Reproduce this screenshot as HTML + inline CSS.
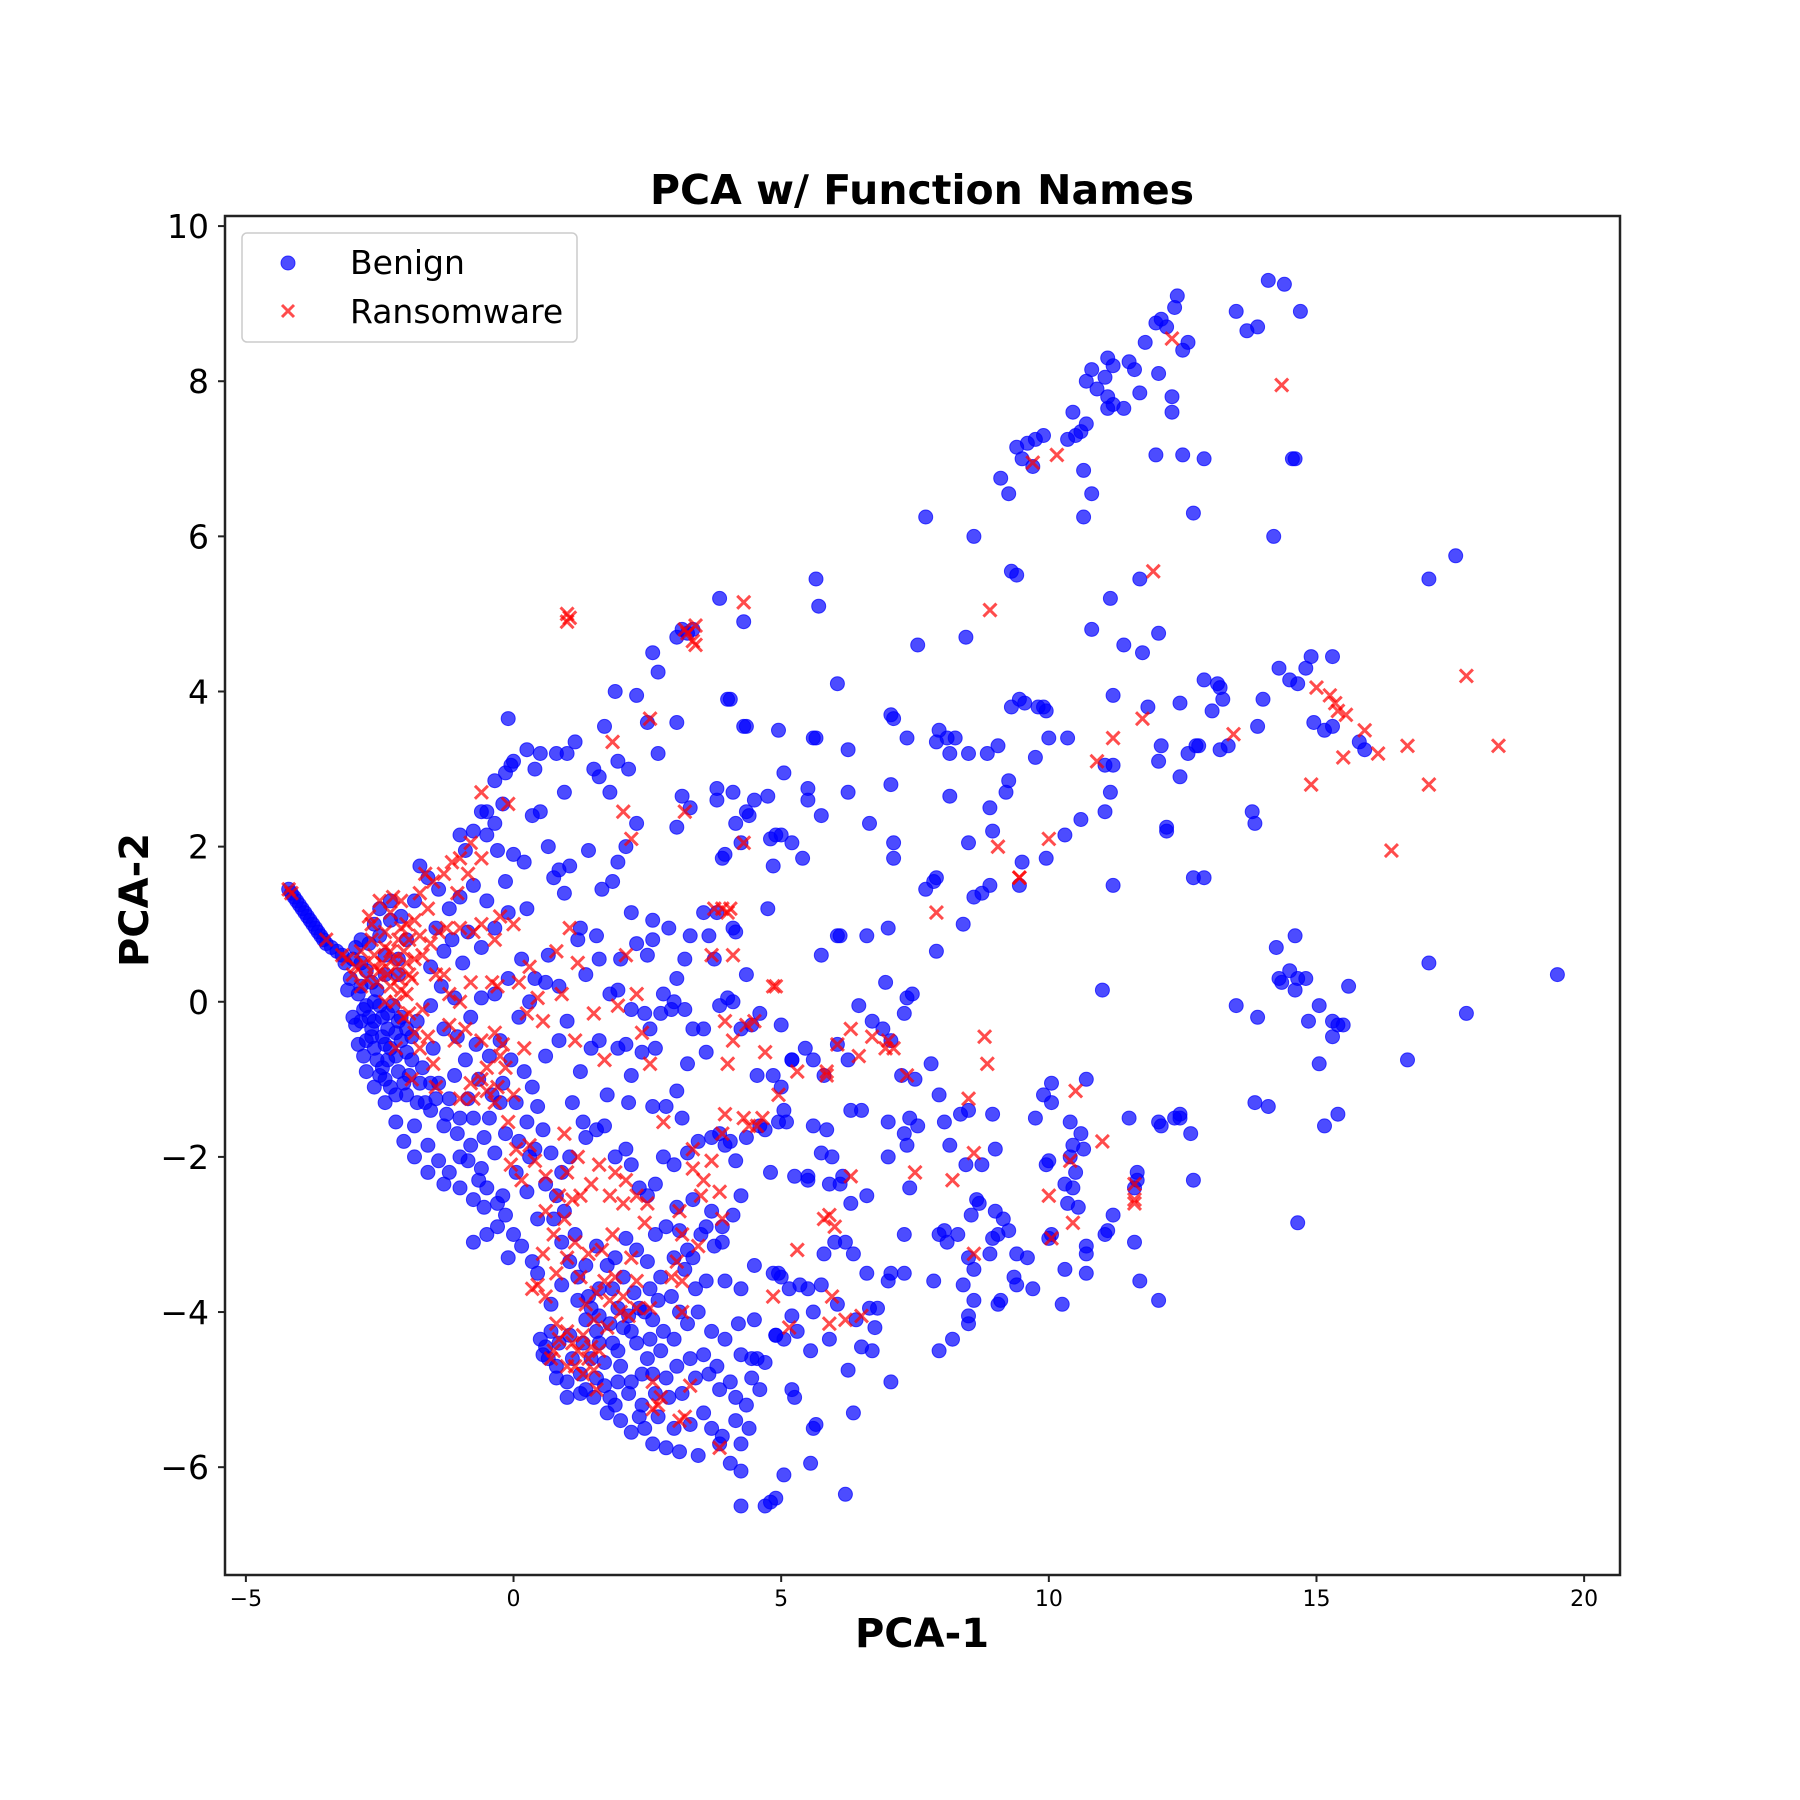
<!DOCTYPE html>
<html><head><meta charset="utf-8"><title>PCA w/ Function Names</title>
<style>html,body{margin:0;padding:0;background:#fff}svg{display:block}text{font-family:"DejaVu Sans","Liberation Sans",sans-serif}</style>
</head><body>
<svg id="chart" width="1800" height="1800" viewBox="0 0 1800 1800" xmlns="http://www.w3.org/2000/svg">
<rect x="0" y="0" width="1800" height="1800" fill="#fff"/>
<text x="922" y="204" text-anchor="middle" font-size="41" font-weight="bold">PCA w/ Function Names</text>
<text x="922" y="1647" text-anchor="middle" font-size="40" font-weight="bold">PCA-1</text>
<text x="0" y="0" transform="translate(148,900) rotate(-90)" text-anchor="middle" font-size="40" font-weight="bold">PCA-2</text>
<g id="marks"></g>
<g id="axes"></g>
</svg>
<script>
const xTicks=[-5,0,5,10,15,20];
const yTicks=[-6,-4,-2,0,2,4,6,8,10];
const yTickLabels=["\u22126","\u22124","\u22122","0","2","4","6","8","10"];
const benignX=[14.1,14.4,14.7,13.5,13.7,13.9,12.4,12.35,12.6,12.5,12.2,12.1,12.0,11.8,11.1,11.2,11.5,11.6,11.05,10.8,10.7,12.05,11.7,11.1,11.1,11.2,11.4,12.3,12.3,10.9,10.6,10.5,10.35,10.45,10.7,9.9,9.6,9.75,9.4,9.5,9.7,9.1,9.25,10.65,10.8,10.65,12.0,12.5,12.9,12.7,14.6,14.55,14.2,7.7,8.6,9.3,9.4,11.15,11.7,10.8,12.05,11.4,11.75,8.45,7.55,17.1,17.6,14.3,14.5,14.65,14.8,14.9,15.3,14.0,13.15,13.2,12.9,13.25,13.05,12.45,11.85,11.2,9.45,9.55,9.8,9.9,9.3,9.95,7.05,7.1,7.95,8.1,7.9,8.25,7.35,8.5,8.15,8.85,9.05,9.75,10.0,10.35,11.2,11.05,12.1,12.05,12.6,12.8,12.75,13.2,13.35,13.9,12.45,9.25,9.2,7.05,8.15,8.9,11.05,11.15,10.6,10.3,12.2,12.2,13.8,13.85,8.95,8.5,7.1,7.1,9.95,9.5,9.45,8.75,8.9,8.6,7.9,7.85,7.7,8.4,7.9,7.0,11.2,12.7,12.9,15.3,15.15,14.95,15.8,15.9,14.25,14.6,14.3,14.35,14.5,14.65,14.8,14.6,14.85,15.05,15.3,15.4,15.5,15.6,15.3,15.05,13.5,13.9,17.1,17.8,19.5,16.7,11.0,13.85,14.1,15.4,15.15,14.65,7.35,7.45,6.95,7.3,6.9,7.05,6.7,6.45,5.75,6.1,6.6,6.05,6.25,7.5,7.25,7.8,7.4,7.55,7.3,7.35,7.4,7.0,7.0,6.5,6.3,5.6,5.85,5.8,5.6,5.45,5.2,5.0,5.2,5.0,5.05,5.1,8.05,8.35,8.5,8.95,9.0,8.75,8.15,8.45,7.95,8.65,8.7,8.55,9.0,9.15,9.25,9.05,8.95,8.9,9.95,10.0,10.3,10.45,10.55,10.5,10.45,10.6,10.4,10.05,10.05,9.9,9.75,10.7,11.5,12.05,12.1,12.35,12.45,12.65,11.65,11.6,11.2,11.1,10.7,10.7,10.3,10.05,10.0,9.6,9.4,9.35,9.4,9.7,9.05,9.1,8.5,8.6,8.05,7.95,8.1,8.3,8.4,8.5,8.5,8.2,8.6,7.95,7.85,7.3,7.3,7.0,7.05,6.8,6.65,6.75,6.7,6.5,7.05,6.6,6.35,6.3,6.6,6.1,6.2,6.0,6.05,5.8,5.75,5.5,5.6,5.55,5.3,5.05,4.9,4.95,5.0,5.2,5.2,5.25,5.65,5.6,5.55,6.2,6.25,6.35,6.4,5.9,6.15,5.95,5.75,5.9,5.5,5.5,12.7,10.7,11.6,11.7,12.05,10.25,12.45,11.65,11.05,10.65,10.4,10.35,
-0.1,0,-0.05,0.25,0.5,0.8,1.0,1.15,1.5,1.7,2.3,2.5,1.9,2.6,2.7,3.05,3.15,3.35,3.25,3.85,4.3,4.0,4.05,4.35,4.3,3.05,2.7,2.15,1.95,1.6,1.8,2.3,2.1,1.95,1.85,1.65,1.4,0.95,1.05,0.85,0.75,0.5,0.35,0.2,0,0.4,0.95,0.65,0.25,-0.15,-0.3,-0.5,-0.6,-0.5,-0.2,-0.35,-0.75,-0.9,-1.0,-0.35,-0.15,3.15,3.3,3.05,3.8,3.8,4.1,4.5,4.75,4.25,4.35,4.4,4.15,3.9,3.95,4.8,4.9,5.0,4.85,5.2,5.4,4.95,5.05,5.5,5.5,5.6,5.65,5.65,5.7,5.75,6.05,6.25,6.25,6.65,6.05,4.75,4.35,4.15,3.65,3.8,3.55,3.3,3.2,3.05,2.9,2.8,2.6,2.5,2.3,2.2,2.6,2.0,1.95,1.55,1.6,1.35,1.25,1.2,1.8,2.2,2.45,2.55,2.75,2.95,3.0,3.2,3.35,3.55,3.6,3.85,4.0,4.1,4.25,4.45,4.6,3.75,4.1,3.25,3.05,3.15,2.85,2.6,2.65,2.4,2.1,1.95,2.2,2.15,1.75,1.6,1.45,1.25,1.1,1.3,1.35,1.55,1.7,1.9,2.1,2.2,2.35,2.5,2.65,2.8,3.0,3.25,3.45,3.7,3.85,3.95,4.15,4.25,4.1,3.9,3.75,3.6,3.35,3.05,2.85,2.65,2.5,2.3,2.1,1.9,1.75,1.55,1.35,1.15,0.95,0.8,0.9,1.05,0.7,0.55,0.45,0.35,0.2,0.6,0.85,1.0,0.85,0.6,0.4,0.15,0.65,3.6,3.4,3.2,3.0,2.75,2.55,2.35,2.15,2.05,2.3,2.5,2.75,3.0,3.25,3.45,3.7,3.95,4.2,4.5,4.55,4.7,4.45,4.6,4.35,4.15,4.25,4.05,4.25,4.25,4.7,4.8,4.9,5.05,4.4,3.85,3.7,3.45,3.1,2.85,2.6,2.45,2.2,2.0,1.75,3.3,3.55,3.85,3.65,3.4,3.15,2.9,2.65,2.4,2.15,1.95,1.7,1.5,1.25,1.0,0.8,0.6,0.5,0.55,0.85,1.05,1.35,1.55,1.85,1.7,2.0,1.6,1.4,1.2,0.9,0.7,0.45,0.35,0.15,0,-0.15,-0.3,-0.5,-0.65,-0.2,0.05,0.25,0.45,-0.1,0.3,0.1,-0.15,-0.35,-0.55,-0.75,-0.85,-0.65,-0.4,-0.2,-0.05,-0.25,-0.45,-0.7,-0.9,-1.1,-1.05,-0.8,-0.6,-0.35,-0.1,0.1,0.3,-0.95,-1.15,-0.85,-0.6,-0.35,-0.1,-0.5,-0.75,-1.0,-1.2,-1.4,-1.6,-1.75,-1.45,-1.3,-1.55,-1.35,-1.1,-1.55,-1.8,-1.3,-1.5,-1.7,-1.4,-1.2,-1.0,-1.3,-1.55,-1.8,-2.0,-1.85,-1.6,-1.4,-1.2,-1.0,-0.8,-1.0,-0.75,-0.55,-0.3,-0.75,-0.5,-1.3,-1.6,-1.85,-2.05,-2.2,-2.4,-2.6,-2.75,-2.9,-2.95,-2.8,-2.6,-2.9,-3.05,-2.85,-2.7,-2.5,-2.3,-2.5,-2.3,-2.1,-1.85,-2.0,-2.15,-2.4,-2.55,-2.35,-2.2,-2.45,-2.6,-2.35,-2.15,-2.0,-1.9,-2.1,-2.25,-2.65,-2.8,-2.5,-2.3,-2.05,-1.95,-2.45,-2.7,-2.55,-2.4,-2.2,-2.1,-2.35,-2.5,-1.9,-1.75,-2.65,-2.0,-2.3,-2.75,-2.45,-2.15,-2.6,-2.85,-2.4,-2.2,-1.65,-1.55,-1.45,-1.25,-1.05,-0.85,-0.6,-0.45,-0.25,0.05,0.25,0.4,0.6,0.75,0.9,1.05,1.2,1.45,1.6,1.8,1.95,1.3,1.1,1.45,1.25,1.55,1.8,1.35,1.6,0.7,0.65,0.8,1.0,2.6,2.8,3.1,2.95,2.7,2.45,2.25,2.05,1.85,1.95,2.2,2.55,2.6,2.85,3.05,3.3,3.55,3.8,4.05,2.4,2.2,1.9,2.35,2.7,3.0,4.15,3.9,-2.95,-2.75,-3.0,-3.15,-2.85,-2.6,-2.4,-2.15,-2.65,-2.85,-3.1,-3.0,-2.75,
-4.2,-4.15,-4.1,-4.05,-4.0,-3.95,-3.9,-3.85,-3.8,-3.75,-3.7,-3.65,-3.6,-3.55,-3.5,-3.4,-3.3,-3.2,
4.8,4.6,4.35,4.05,4.85,4.55,4.7,5.25,4.95,5.35,5.15,4.85,4.5,4.9,4.25,4.45,4.25,3.95,3.9,3.7,3.5,3.25,3.1,3.35];
const benignY=[9.3,9.25,8.9,8.9,8.65,8.7,9.1,8.95,8.5,8.4,8.7,8.8,8.75,8.5,8.3,8.2,8.25,8.15,8.05,8.15,8.0,8.1,7.85,7.8,7.65,7.7,7.65,7.8,7.6,7.9,7.35,7.3,7.25,7.6,7.45,7.3,7.2,7.25,7.15,7.0,6.9,6.75,6.55,6.85,6.55,6.25,7.05,7.05,7.0,6.3,7.0,7.0,6.0,6.25,6.0,5.55,5.5,5.2,5.45,4.8,4.75,4.6,4.5,4.7,4.6,5.45,5.75,4.3,4.15,4.1,4.3,4.45,4.45,3.9,4.1,4.05,4.15,3.9,3.75,3.85,3.8,3.95,3.9,3.85,3.8,3.8,3.8,3.75,3.7,3.65,3.5,3.4,3.35,3.4,3.4,3.2,3.2,3.2,3.3,3.15,3.4,3.4,3.05,3.05,3.3,3.1,3.2,3.3,3.3,3.25,3.3,3.55,2.9,2.85,2.7,2.8,2.65,2.5,2.45,2.7,2.35,2.15,2.25,2.2,2.45,2.3,2.2,2.05,2.05,1.85,1.85,1.8,1.5,1.4,1.5,1.35,1.6,1.55,1.45,1.0,0.65,0.95,1.5,1.6,1.6,3.55,3.5,3.6,3.35,3.25,0.7,0.85,0.3,0.25,0.4,0.3,0.3,0.15,-0.25,-0.05,-0.25,-0.3,-0.3,0.2,-0.45,-0.8,-0.05,-0.2,0.5,-0.15,0.35,-0.75,0.15,-1.3,-1.35,-1.45,-1.6,-2.85,0.05,0.1,0.25,-0.15,-0.35,-0.5,-0.25,-0.05,0.6,0.85,0.85,-0.55,-0.75,-1.0,-0.95,-0.8,-1.5,-1.6,-1.7,-1.85,-2.4,-2.0,-1.55,-1.4,-1.4,-1.6,-1.65,-0.95,-0.75,-0.6,-0.75,-0.3,-0.75,-1.1,-1.4,-1.55,-1.55,-1.45,-1.4,-1.45,-1.9,-2.1,-1.85,-2.1,-1.2,-2.55,-2.6,-2.75,-2.7,-2.8,-2.95,-3.0,-3.05,-3.25,-2.1,-2.05,-2.35,-2.4,-2.65,-2.2,-1.85,-1.7,-1.55,-1.05,-1.3,-1.2,-1.5,-1.0,-1.5,-1.55,-1.6,-1.5,-1.5,-1.7,-2.2,-2.4,-2.75,-2.95,-3.25,-3.5,-3.45,-3.0,-3.05,-3.3,-3.25,-3.55,-3.65,-3.7,-3.9,-3.85,-3.3,-3.45,-2.95,-3.0,-3.1,-3.0,-3.65,-4.05,-4.15,-4.35,-3.85,-4.5,-3.6,-3.0,-3.5,-3.6,-3.5,-3.95,-3.95,-4.2,-4.5,-4.45,-4.9,-3.5,-3.25,-2.6,-2.5,-2.35,-3.1,-3.1,-3.9,-3.25,-3.65,-3.7,-4.0,-4.5,-4.25,-4.35,-4.3,-3.5,-3.55,-4.05,-5.0,-5.1,-5.45,-5.5,-5.95,-6.35,-4.75,-5.3,-4.1,-4.35,-2.25,-2.0,-1.95,-2.35,-2.25,-2.3,-2.3,-3.15,-3.1,-3.6,-3.85,-3.9,-1.45,-2.3,-3.0,-1.9,-2.0,-2.6,
3.65,3.1,3.05,3.25,3.2,3.2,3.2,3.35,3.0,3.55,3.95,3.6,4.0,4.5,4.25,4.7,4.8,4.8,4.75,5.2,4.9,3.9,3.9,3.55,3.55,3.6,3.2,3.0,3.1,2.9,2.7,2.3,2.0,1.8,1.55,1.45,1.95,2.7,1.75,1.7,1.6,2.45,2.4,1.8,1.9,3.0,1.4,2.0,1.2,1.55,1.95,2.45,2.45,2.15,2.55,2.3,2.2,1.95,2.15,2.85,2.95,2.65,2.5,2.25,2.75,2.6,2.7,2.6,2.65,2.05,2.45,2.4,2.3,1.85,1.9,2.1,2.15,2.15,1.75,2.05,1.85,3.5,2.95,2.75,2.6,3.4,3.4,5.45,5.1,2.4,4.1,3.25,2.7,2.3,0.85,1.2,0.35,0.9,0.85,1.15,1.15,0.85,0.55,0.3,0.95,0.1,1.05,0.6,0.75,1.15,0.8,0.55,0.15,0.85,0.55,0.35,0.95,0.8,0.1,-0.1,-0.15,-0.35,-0.15,-0.1,0.0,-0.1,-0.35,-0.35,-0.65,-0.05,0.05,0.0,-0.35,-0.3,-0.15,0.55,0.95,-0.8,-1.15,-1.5,-1.35,-1.35,-0.6,-0.65,-0.55,-0.6,-0.95,-1.3,-1.2,-0.5,-0.6,-0.9,-1.3,-1.55,-1.75,-1.65,-1.6,-2.0,-1.9,-2.1,-2.4,-2.5,-2.35,-2.0,-2.1,-1.95,-1.8,-1.75,-1.7,-1.85,-2.05,-2.5,-2.75,-2.9,-3.15,-2.9,-2.55,-2.65,-2.9,-3.0,-3.35,-3.2,-3.05,-3.3,-3.4,-3.15,-3.4,-3.0,-2.7,-2.5,-2.2,-2.0,-1.95,-1.65,-1.35,-1.1,-0.9,-0.7,-0.5,-0.25,0.2,0.25,0.3,0.55,0.6,-3.6,-3.7,-3.45,-3.3,-3.55,-3.7,-3.95,-4.05,-4.2,-4.4,-4.6,-4.5,-4.35,-4.15,-4.0,-4.25,-4.35,-4.15,-4.1,-4.6,-4.65,-4.85,-5.0,-5.2,-5.4,-5.7,-5.95,-6.05,-6.5,-6.5,-6.45,-6.4,-6.1,-5.5,-5.7,-5.5,-5.85,-5.8,-5.75,-5.7,-5.5,-5.55,-5.4,-5.3,-5.45,-5.3,-5.0,-4.8,-4.85,-5.05,-5.1,-5.05,-5.2,-5.05,-4.9,-4.95,-5.1,-5.05,-4.9,-4.7,-4.45,-4.35,-4.55,-4.4,-4.3,-4.1,-4.25,-4.4,-4.65,-4.7,-3.7,-3.8,-3.55,-3.65,-3.9,-3.5,-3.35,-3.15,-3.0,-2.75,-2.6,-2.4,-2.3,-2.5,-2.2,-2.45,-2.8,-3.3,-2.0,-1.8,-1.7,-1.95,-1.75,-1.5,-1.25,-1.0,-1.2,-1.05,-0.75,-0.5,-0.7,-0.55,-0.75,-0.95,-0.45,-0.2,0.05,0.1,0.3,-0.2,0.0,0.5,0.8,0.9,0.7,0.95,1.15,1.3,1.5,1.35,1.2,1.45,1.6,1.75,0.95,0.65,0.45,0.2,0.05,-0.05,-0.25,-0.35,-0.6,-0.85,-1.05,-1.25,-1.5,-1.6,-1.4,-1.3,-1.2,-1.6,-1.85,-2.05,-2.2,-2.0,-1.85,-2.4,-2.55,-2.65,-2.9,-3.1,-3.0,-2.35,-2.2,-2.0,-1.8,-1.55,-1.3,-1.1,-0.9,-0.55,-0.3,-0.1,0.0,0.1,0.3,0.5,0.75,0.85,1.05,1.2,1.3,1.1,1.3,0.8,0.55,0.35,0.15,-0.15,-0.4,-0.45,-0.6,-0.75,-0.9,-0.65,-0.45,-0.2,-0.05,-0.35,-0.7,-0.95,-1.1,-1.05,-0.95,-0.2,-0.2,-0.75,-0.55,-0.7,-0.5,-0.35,-0.05,-0.75,-1.05,-0.45,-0.35,-0.6,-0.5,-0.85,-0.25,-0.25,-0.25,-1.0,-1.2,-1.3,-1.05,-1.25,-1.45,-1.7,-2.05,-2.15,-1.5,-1.3,-1.3,-1.55,-1.9,-2.35,-2.8,-3.1,-3.35,-3.85,-3.95,-4.05,-4.15,-4.5,-4.4,-4.6,-4.6,-4.8,-4.85,-5.1,-5.0,-4.4,-4.25,-4.6,-4.85,-5.1,-4.1,-4.25,-4.0,-3.8,-3.85,-4.0,-3.75,-3.55,-3.7,-3.95,-4.25,-4.35,-4.8,-4.85,-4.7,-4.6,-4.55,-4.7,-4.9,-4.8,-4.9,-5.2,-5.35,-5.35,-5.5,-5.1,-5.6,0.7,0.4,0.55,0.5,0.8,1.0,0.6,0.35,0.25,0.2,0.15,-0.2,-0.05,
1.45,1.4,1.35,1.3,1.25,1.2,1.15,1.1,1.05,1.0,0.95,0.9,0.85,0.8,0.75,0.7,0.65,0.6,
-2.2,-1.6,-1.75,-1.8,-0.95,-0.95,-1.65,-2.25,-1.55,-3.65,-3.7,-3.5,-3.4,-4.3,-4.55,-4.6,-3.7,-3.6,-3.1,-2.7,-3.0,-3.2,-2.95,-3.3];
const ransomX=[-4.2,-4.15,-3.5,12.3,14.35,9.7,10.15,11.95,8.9,4.3,1.0,1.05,1.0,3.25,3.35,3.4,3.4,3.2,2.55,1.85,2.05,2.2,3.2,4.3,15.0,15.25,15.35,15.4,15.55,15.9,15.5,16.15,16.7,18.4,17.8,17.1,14.9,13.45,11.75,11.2,10.9,10.0,9.05,9.45,9.45,16.4,7.9,3.75,3.9,4.05,4.0,3.7,4.1,4.85,4.9,0.0,0.8,1.05,1.2,0.9,0.3,0.45,0.25,-0.3,-0.2,0.2,0.55,1.15,1.5,1.7,2.1,2.3,2.4,2.55,1.95,3.95,4.1,4.35,4.5,4.7,4.95,5.3,5.85,5.85,6.3,6.05,6.7,6.45,6.95,7.0,7.1,7.35,8.5,8.8,8.85,10.5,11.0,10.0,10.4,10.45,10.05,11.6,11.6,11.6,8.6,8.2,8.6,7.5,6.3,6.5,6.2,5.9,5.95,5.8,5.9,6.0,5.3,4.85,5.15,4.4,4.55,4.3,4.65,3.9,3.7,3.55,3.85,3.5,3.35,3.35,3.9,3.95,4.0,3.1,3.45,3.15,3.05,2.95,3.15,3.15,3.3,3.1,3.2,2.75,2.6,2.6,2.7,3.85,2.5,2.8,2.1,1.9,1.8,2.05,2.3,2.45,2.2,2.3,2.55,2.3,2.15,2.0,1.8,1.7,1.55,1.35,1.5,1.3,1.2,1.1,1.0,0.85,0.75,0.7,1.4,1.5,1.3,1.15,1.6,1.75,1.9,2.05,1.25,1.0,0.8,0.75,0.95,1.1,0.85,0.6,0.45,0.6,0.35,0.55,0.6,0.4,0.3,0.15,-0.05,0.05,-0.1,-0.35,-0.3,-0.5,-0.6,-0.8,-0.5,-0.15,0.0,-0.25,-0.75,-1.0,-0.9,-1.2,-1.0,-0.8,-0.4,-0.35,-0.25,-0.6,-0.75,-1.0,-1.25,-1.05,-0.85,-0.6,-0.8,-1.0,-1.15,-1.3,-0.6,-0.1,-1.5,-1.65,-1.75,-1.6,-1.4,-1.55,-1.7,-1.45,-1.3,-1.2,-1.7,-1.6,-1.75,-1.5,-1.85,-1.95,-2.0,-1.9,-1.85,-1.95,-2.0,-2.1,-2.25,-2.5,-2.7,-2.4,-2.15,-2.3,-2.45,-2.2,-2.0,-1.95,-2.35,-2.6,-2.8,-2.95,-3.1,-3.2,-2.75,-2.55,-2.3,-2.1,-2.25,-2.05,-2.4,-2.6,-2.85,-2.65,-2.5,-2.15,-2.2,-2.4,-2.05,-2.3,-2.65,-1.85,-1.75,-2.1,-2.85,-3.0,-1.9,-2.2,-1.45,-1.1,-0.6,-0.35,0.1,1.0,1.2,0.95,1.25,1.45,1.6,1.15,1.4,1.65,1.85,1.45,1.55,1.0,0.8];
const ransomY=[1.45,1.4,0.8,8.55,7.95,6.95,7.05,5.55,5.05,5.15,5.0,4.95,4.9,4.75,4.65,4.6,4.85,4.8,3.65,3.35,2.45,2.1,2.45,2.05,4.05,3.95,3.85,3.75,3.7,3.5,3.15,3.2,3.3,3.3,4.2,2.8,2.8,3.45,3.65,3.4,3.1,2.1,2.0,1.6,1.6,1.95,1.15,1.2,1.2,1.2,1.15,0.6,0.6,0.2,0.2,1.0,0.65,0.95,0.5,0.1,0.45,0.05,-0.15,0.2,-0.55,-0.6,-0.25,-0.5,-0.15,-0.75,0.6,0.1,-0.4,-0.8,-0.05,-0.25,-0.5,-0.3,-0.25,-0.65,-1.2,-0.9,-0.9,-0.95,-0.35,-0.55,-0.45,-0.7,-0.6,-0.5,-0.6,-0.95,-1.25,-0.45,-0.8,-1.15,-1.8,-2.5,-2.05,-2.85,-3.05,-2.35,-2.55,-2.6,-1.95,-2.3,-3.25,-2.2,-2.25,-4.05,-4.1,-4.15,-3.8,-2.8,-2.75,-2.9,-3.2,-3.8,-4.2,-1.6,-1.6,-1.5,-1.5,-1.7,-2.05,-2.3,-2.45,-2.5,-2.15,-1.9,-2.8,-1.45,-0.8,-2.7,-3.15,-3.0,-3.35,-3.55,-3.6,-4.0,-4.95,-5.4,-5.35,-5.1,-4.9,-5.25,-5.2,-5.75,-2.6,-1.55,-2.3,-2.2,-2.5,-2.6,-2.5,-2.85,-3.3,-3.6,-3.95,-3.95,-4.05,-4.0,-3.85,-3.6,-3.75,-3.9,-4.1,-4.3,-4.5,-4.4,-4.25,-4.35,-4.5,-4.6,-4.6,-4.75,-4.8,-4.7,-4.5,-4.2,-3.55,-3.8,-3.55,-3.3,-3.5,-3.0,-2.8,-2.55,-2.5,-2.7,-3.65,-3.8,-3.7,-3.25,-2.25,-2.05,-1.85,-2.3,-2.1,-1.9,-1.55,-1.3,-1.1,-1.15,-1.0,-1.05,-0.85,-0.85,-1.2,-0.7,-1.25,-1.25,-0.35,-0.3,0.0,0.25,0.25,0.8,1.1,1.0,0.9,0.95,0.95,1.4,1.65,1.85,2.05,1.85,1.8,1.65,2.7,2.55,1.55,1.65,1.4,1.2,0.9,0.75,0.6,0.35,0.35,0.1,-0.1,-0.45,-0.6,-0.8,-0.4,-0.15,0.1,0.3,0.55,0.8,1.0,1.3,1.35,1.3,1.1,0.9,0.8,0.65,0.5,0.45,0.5,0.35,0.35,0.45,0.5,0.45,0.55,0.6,0.3,0.25,0.2,0.15,0.55,0.65,0.7,0.6,0.65,0.8,0.4,0.3,0.0,0.0,-0.2,1.15,1.0,1.05,0.85,0.95,0.2,0.35,-1.0,-0.6,-1.1,-0.5,-0.5,-0.4,0.25,-2.2,-2.0,-1.7,-2.5,-2.35,-2.1,-3.1,-3.25,-3.2,-3.0,-4.45,-5.0,-4.7,-4.15];

const NS="http://www.w3.org/2000/svg";
const L=225,R=1620,T=216,B=1575;
const xMin=-5.39,xMax=20.67,yMin=-7.39,yMax=10.13;
function xs(v){return L+(v-xMin)/(xMax-xMin)*(R-L);}
function ys(v){return B-(v-yMin)/(yMax-yMin)*(B-T);}
function mk(tag,attrs){const e=document.createElementNS(NS,tag);for(const k in attrs)e.setAttribute(k,attrs[k]);return e;}
const marks=document.getElementById('marks');
const axes=document.getElementById('axes');
const gb=mk('g',{});


marks.appendChild(gb);
for(let i=0;i<benignX.length;i++){
  const c=mk('circle',{cx:xs(benignX[i]).toFixed(1),cy:ys(benignY[i]).toFixed(1),r:7,fill:'#0000ff','fill-opacity':0.7,stroke:'#0000ff','stroke-opacity':0.7,'stroke-width':1});
  
  
  gb.appendChild(c);
}
const gr=mk('g',{});


marks.appendChild(gr);
for(let i=0;i<ransomX.length;i++){
  const cx=xs(ransomX[i]),cy=ys(ransomY[i]),s=6.5;
  const p=mk('path',{d:`M${cx-s},${cy-s}L${cx+s},${cy+s}M${cx-s},${cy+s}L${cx+s},${cy-s}`,stroke:'#ff0000','stroke-opacity':0.7,'stroke-width':3,fill:'none'});
  
  
  gr.appendChild(p);
}
const frame=mk('rect',{x:L,y:T,width:R-L,height:B-T,fill:'none',stroke:'#222','stroke-width':2.5});


axes.appendChild(frame);
xTicks.forEach(v=>{
  const x=xs(v);
  const t=mk('line',{x1:x,x2:x,y1:B,y2:B+7,stroke:'#222','stroke-width':2});
  
  
  axes.appendChild(t);
  const tx=mk('text',{x:x,y:1606,'text-anchor':'middle','font-size':22});
  
  
  tx.textContent=v<0?'\u2212'+(-v):String(v);
  axes.appendChild(tx);
});
yTicks.forEach((v,i)=>{
  const y=ys(v);
  const t=mk('line',{x1:L-7,x2:L,y1:y,y2:y,stroke:'#222','stroke-width':2});
  
  
  axes.appendChild(t);
  const tx=mk('text',{x:209,y:y+12,'text-anchor':'end','font-size':33});
  
  
  tx.textContent=yTickLabels[i];
  axes.appendChild(tx);
});
const lg=mk('g',{});


axes.appendChild(lg);
const lb=mk('rect',{x:242,y:233,width:335,height:109,rx:5,fill:'#fff','fill-opacity':0.8,stroke:'#ccc','stroke-width':1.5});


lg.appendChild(lb);
const lc=mk('circle',{cx:288,cy:263,r:7,fill:'#0000ff','fill-opacity':0.7,stroke:'#0000ff','stroke-opacity':0.7});


lg.appendChild(lc);
const lx=mk('path',{d:'M282,305L294,317M282,317L294,305',stroke:'#ff0000','stroke-opacity':0.7,'stroke-width':3});


lg.appendChild(lx);
const t1=mk('text',{x:350,y:274,'font-size':33});


t1.textContent='Benign';
lg.appendChild(t1);
const t2=mk('text',{x:350,y:323,'font-size':33});


t2.textContent='Ransomware';
lg.appendChild(t2);
</script>
</body></html>
